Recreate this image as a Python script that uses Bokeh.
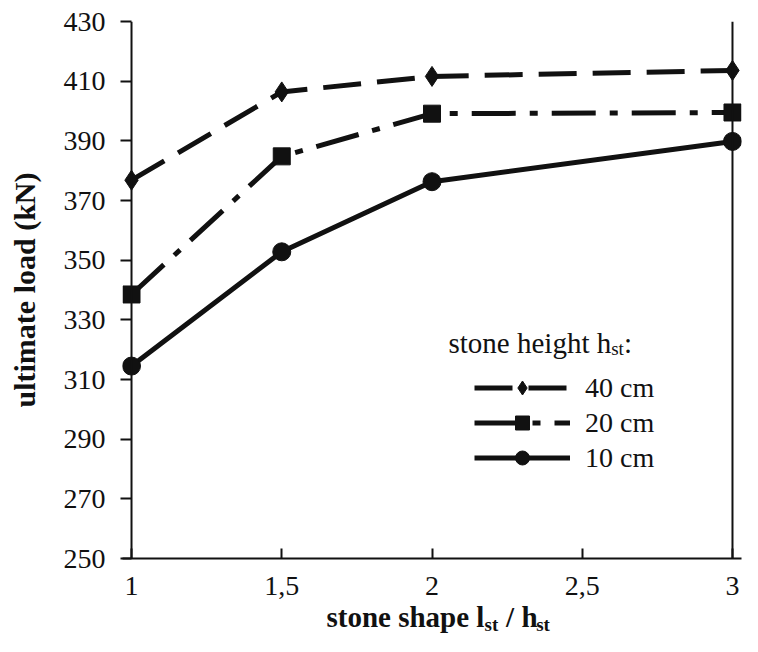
from bokeh.plotting import figure
from bokeh.models import Range1d, FixedTicker, Span, Label, Legend, LegendItem
from bokeh.embed import file_html
from bokeh.resources import INLINE

# ---- data ----
shape = [1, 1.5, 2, 3]
load_40 = [376.8, 406.4, 411.6, 413.6]
load_20 = [338.5, 384.8, 399.1, 399.5]
load_10 = [314.5, 352.8, 376.3, 389.8]
x_ticks = [1, 1.5, 2, 2.5, 3]
x_tick_labels = ["1", "1,5", "2", "2,5", "3"]
y_ticks = [250, 270, 290, 310, 330, 350, 370, 390, 410, 430]
legend_labels = ["40 cm", "20 cm", "10 cm"]

SERIF = "Liberation Serif"
INK = "#111111"
NB = "\u00a0"

p = figure(width=742, height=636, output_backend="svg", toolbar_location=None,
           x_range=Range1d(0.97, 3.03), y_range=Range1d(250, 430),
           min_border_left=122, min_border_right=1, min_border_top=20,
           min_border_bottom=78)
p.outline_line_color = None
p.grid.visible = False
p.background_fill_color = "white"
p.border_fill_color = "white"

xa = p.xaxis[0]
xa.ticker = FixedTicker(ticks=x_ticks)
xa.major_label_overrides = {t: s for t, s in zip(x_ticks, x_tick_labels)}
xa.axis_line_width = 2
xa.axis_line_color = INK
xa.major_tick_in = 10
xa.major_tick_out = 0
xa.major_tick_line_width = 2
xa.major_tick_line_color = INK
xa.minor_tick_line_color = None
xa.major_label_text_font = SERIF
xa.major_label_text_font_size = "28px"
xa.major_label_text_color = INK
xa.major_label_standoff = 18
# main part of "stone shape l_st / h_st"; the subscripts are drawn as a Label below
xa.axis_label = "stone shape l" + NB * 3 + "/" + NB + "h"
xa.axis_label_text_font = SERIF
xa.axis_label_text_font_style = "bold"
xa.axis_label_text_font_size = "29px"
xa.axis_label_text_color = INK
xa.axis_label_standoff = 3

ya = p.yaxis[0]
ya.ticker = FixedTicker(ticks=y_ticks)
ya.axis_line_color = None
ya.major_tick_in = 9
ya.major_tick_out = 2
ya.major_tick_line_width = 2
ya.major_tick_line_color = INK
ya.minor_tick_line_color = None
ya.major_label_text_font = SERIF
ya.major_label_text_font_size = "28px"
ya.major_label_text_color = INK
ya.major_label_standoff = 15
ya.axis_label = "ultimate load (kN)"
ya.axis_label_text_font = SERIF
ya.axis_label_text_font_style = "bold"
ya.axis_label_text_font_size = "30px"
ya.axis_label_text_color = INK
ya.axis_label_standoff = 20

# left axis line at x = 1 and right frame line at x = 3
p.add_layout(Span(location=1, dimension="height", line_width=2, line_color=INK))
p.add_layout(Span(location=3, dimension="height", line_width=2, line_color=INK))

r40l = p.line(shape, load_40, line_width=5, line_dash="38 16", line_color=INK)
r40m = p.scatter(shape, load_40, marker="diamond", size=20, color=INK)
r20l = p.line(shape, load_20, line_width=5, line_dash="44 14 8 14", line_color=INK)
r20m = p.scatter(shape, load_20, marker="square", size=17, color=INK)
r10l = p.line(shape, load_10, line_width=5, line_color=INK)
r10m = p.scatter(shape, load_10, marker="circle", size=18, color=INK)

legend = Legend(items=[LegendItem(label=legend_labels[0], renderers=[r40l, r40m]),
                       LegendItem(label=legend_labels[1], renderers=[r20l, r20m]),
                       LegendItem(label=legend_labels[2], renderers=[r10l, r10m])],
                location=(352, 83), orientation="vertical",
                glyph_width=96, glyph_height=35, label_height=35, spacing=0,
                label_standoff=15, padding=0, margin=0,
                border_line_color=None, background_fill_alpha=0,
                label_text_font=SERIF, label_text_font_size="28px",
                label_text_color=INK)
p.add_layout(legend)

# legend title "stone height h_st:"
tx, ty = 326, 216
p.add_layout(Label(x=tx, y=ty, x_units="screen", y_units="screen", text="stone height h",
                   text_font=SERIF, text_font_size="29px", text_color=INK,
                   text_baseline="alphabetic"))
w1 = 5.611 * 29
p.add_layout(Label(x=tx + w1, y=ty - 6, x_units="screen", y_units="screen", text="st",
                   text_font=SERIF, text_font_size="19px", text_color=INK,
                   text_baseline="alphabetic"))
w2 = (0.389 + 0.278) * 19
p.add_layout(Label(x=tx + w1 + w2, y=ty, x_units="screen", y_units="screen", text=":",
                   text_font=SERIF, text_font_size="29px", text_color=INK,
                   text_baseline="alphabetic"))

# subscripts of the x axis label, kept in the (thin) panel above and shifted down
p.add_layout(Label(x=362, y=-603, x_units="screen", y_units="screen",
                   text="st" + NB * 8 + "st", text_font=SERIF, text_font_style="bold",
                   text_font_size="19px", text_color=INK, text_baseline="alphabetic"),
             "above")

open("out.html", "w").write(file_html(p, INLINE))
